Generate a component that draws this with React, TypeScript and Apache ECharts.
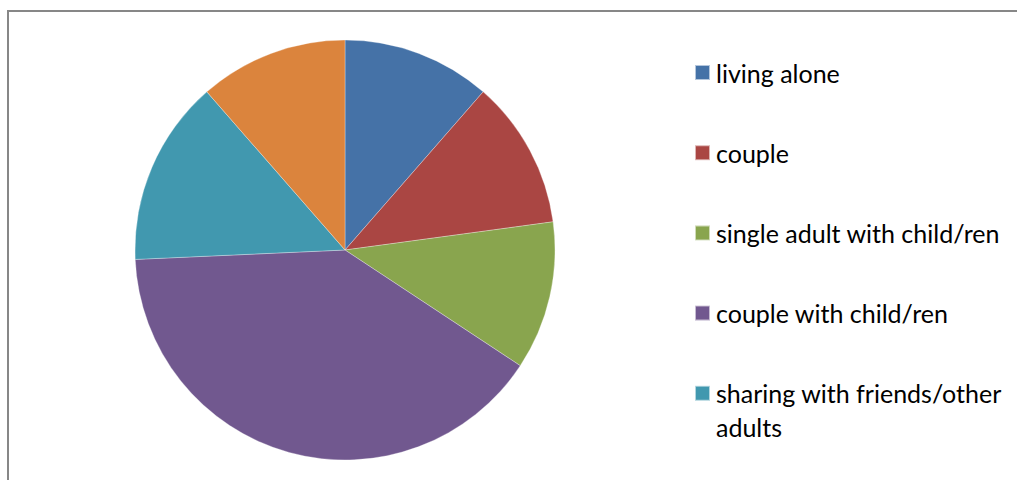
import React, { useEffect, useRef } from "react";
import * as echarts from "echarts";

const categories = [
  "living alone",
  "couple",
  "single adult with child/ren",
  "couple with child/ren",
  "sharing with friends/other adults",
  "other",
];
const values = [4, 4, 4, 14, 5, 4];
const colors = ["#4572A7", "#AA4643", "#89A54E", "#71588F", "#4198AF", "#DB843D"];
const legendNames = categories.slice(0, 5);

export default function App() {
  const ref = useRef<HTMLDivElement>(null);
  useEffect(() => {
    if (!ref.current) return;
    const chart = echarts.init(ref.current, undefined, { renderer: "svg" });
    const legendX = 694;
    const firstCenter = 72.5;
    const step = 80.2;
    const lh = 34;
    const legends = legendNames.map((name, i) => {
      const wrapped = name.indexOf("/other ") >= 0;
      const center = firstCenter + step * i;
      return {
        data: [name],
        orient: "vertical",
        left: legendX,
        top: wrapped ? center - lh * 1.5 : center - lh / 2,
        padding: 0,
        itemWidth: 15,
        itemHeight: 15,
        icon: "rect",
        selectedMode: false,
        formatter: (n: string) =>
          n.indexOf("/other ") >= 0 ? " \n" + n.replace("/other ", "/other\n") : n,
        textStyle: {
          fontFamily: "Lato",
          fontSize: 25,
          lineHeight: lh,
          color: "#000",
          padding: [0, 0, 0, 1],
        },
      };
    });
    chart.setOption({
      animation: false,
      color: colors,
      legend: legends,
      graphic: [
        {
          type: "rect",
          shape: { x: 8, y: 11, width: 1100, height: 600 },
          style: { fill: "none", stroke: "#878787", lineWidth: 2 },
          silent: true,
        },
      ],
      series: [
        {
          type: "pie",
          center: [345, 250],
          radius: 210,
          startAngle: 90,
          clockwise: true,
          label: { show: false },
          labelLine: { show: false },
          emphasis: { disabled: true },
          itemStyle: { borderColor: "rgba(255,255,255,0.6)", borderWidth: 0.5 },
          data: categories.map((name, i) => ({ name, value: values[i] })),
        },
      ],
    });
    return () => chart.dispose();
  }, []);
  return (
    <div
      ref={ref}
      style={{ position: "fixed", left: 0, top: 0, width: 1017, height: 480, background: "#fff" }}
    />
  );
}
